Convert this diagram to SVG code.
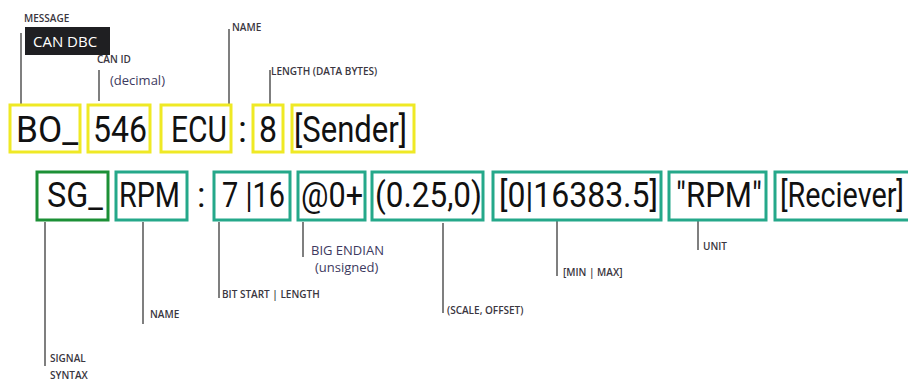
<svg xmlns="http://www.w3.org/2000/svg" width="908" height="381" viewBox="0 0 908 381">
<style>
.yb{fill:none;stroke:#efe925;stroke-width:3}
.tb{fill:none;stroke:#25a88a;stroke-width:3}
.gb{fill:none;stroke:#1c9036;stroke-width:3}
.big{font-family:Roboto,"Open Sans",sans-serif;font-size:37px;font-weight:400;fill:#111}
.mid{font-family:Roboto,"Open Sans",sans-serif;font-size:35px;font-weight:400;fill:#111}
.lbl{font-family:"Open Sans","Noto Sans",sans-serif;font-size:10px;font-weight:600;fill:#3a3640}
.lbl2{font-family:"Open Sans","Noto Sans",sans-serif;font-size:13px;fill:#3d3a60}
.ln{stroke:#555;stroke-width:1.5;fill:none}
</style>
<rect width="908" height="381" fill="#fff"/>
<g id="connectors">
<line class="ln" x1="21" y1="33" x2="21" y2="105"/>
<line class="ln" x1="99" y1="70" x2="99" y2="101"/>
<line class="ln" x1="229" y1="29" x2="229" y2="105"/>
<line class="ln" x1="270" y1="70" x2="270" y2="104"/>
<line class="ln" x1="45" y1="222" x2="45" y2="366"/>
<line class="ln" x1="143" y1="222" x2="143" y2="324"/>
<line class="ln" x1="219" y1="222" x2="219" y2="298"/>
<line class="ln" x1="303" y1="222" x2="303" y2="257"/>
<line class="ln" x1="443" y1="223" x2="443" y2="313"/>
<line class="ln" x1="557" y1="220" x2="557" y2="276"/>
<line class="ln" x1="698" y1="220" x2="698" y2="250"/>
</g>
<g id="title">
<rect x="25" y="27" width="85" height="28" fill="#1f1f22"/>
<text x="33" y="47" font-family="'Open Sans','Noto Sans',sans-serif" font-size="15" fill="#fff">CAN DBC</text>
</g>
<g id="labels">
<text class="lbl" x="24" y="22">MESSAGE</text>
<text class="lbl" x="97" y="63">CAN ID</text>
<text class="lbl2" x="110" y="85">(decimal)</text>
<text class="lbl" x="232" y="31">NAME</text>
<text class="lbl" x="271" y="75">LENGTH (DATA BYTES)</text>
<text class="lbl" x="50" y="362">SIGNAL</text>
<text class="lbl" x="50" y="379">SYNTAX</text>
<text class="lbl" x="150" y="318">NAME</text>
<text class="lbl" x="222" y="298">BIT START | LENGTH</text>
<text class="lbl2" x="311" y="255">BIG ENDIAN</text>
<text class="lbl2" x="315" y="272">(unsigned)</text>
<text class="lbl" x="447" y="314">(SCALE, OFFSET)</text>
<text class="lbl" x="563" y="276">[MIN | MAX]</text>
<text class="lbl" x="703" y="250">UNIT</text>
</g>
<g id="bo"><rect class="yb" x="10" y="105" width="70" height="47"/><text class="big" x="16" y="142" textLength="62" lengthAdjust="spacingAndGlyphs">BO_</text></g>
<g id="canid"><rect class="yb" x="88" y="105" width="62" height="47"/><text class="big" x="93" y="142" textLength="54" lengthAdjust="spacingAndGlyphs">546</text></g>
<g id="ecu"><rect class="yb" x="161" y="105" width="70" height="47"/><text class="big" x="171" y="142" textLength="56" lengthAdjust="spacingAndGlyphs">ECU</text></g>
<text class="big" x="238" y="142">:</text>
<g id="len"><rect class="yb" x="253" y="105" width="30" height="47"/><text class="big" x="259" y="142" textLength="18" lengthAdjust="spacingAndGlyphs">8</text></g>
<g id="sender"><rect class="yb" x="292" y="105" width="122" height="47"/><text class="big" x="294" y="142" textLength="113" lengthAdjust="spacingAndGlyphs">[Sender]</text></g>
<g id="sg"><rect class="gb" x="37" y="172" width="71" height="48"/><text class="mid" x="47" y="207" textLength="56" lengthAdjust="spacingAndGlyphs">SG_</text></g>
<g id="name"><rect class="tb" x="116" y="172" width="71" height="48"/><text class="mid" x="119" y="207" textLength="61" lengthAdjust="spacingAndGlyphs">RPM</text></g>
<text class="mid" x="197" y="207">:</text>
<g id="bits"><rect class="tb" x="214" y="172" width="76" height="48"/><text class="mid" x="222" y="207" textLength="63" lengthAdjust="spacingAndGlyphs">7 |16</text></g>
<g id="endian"><rect class="tb" x="298" y="172" width="67" height="48"/><text class="mid" x="301" y="207" textLength="62" lengthAdjust="spacingAndGlyphs">@0+</text></g>
<g id="scale"><rect class="tb" x="372" y="172" width="111" height="48"/><text class="mid" x="375" y="207" textLength="107" lengthAdjust="spacingAndGlyphs">(0.25,0)</text></g>
<g id="minmax"><rect class="tb" x="493" y="172" width="168" height="48"/><text class="mid" x="499" y="207" textLength="159" lengthAdjust="spacingAndGlyphs">[0|16383.5]</text></g>
<g id="unit"><rect class="tb" x="669" y="172" width="97" height="48"/><text class="mid" x="676" y="207" textLength="86" lengthAdjust="spacingAndGlyphs">"RPM"</text></g>
<g id="receiver"><rect class="tb" x="775" y="172" width="140" height="48"/><text class="mid" x="780" y="207" textLength="124" lengthAdjust="spacingAndGlyphs">[Reciever]</text></g>
</svg>
